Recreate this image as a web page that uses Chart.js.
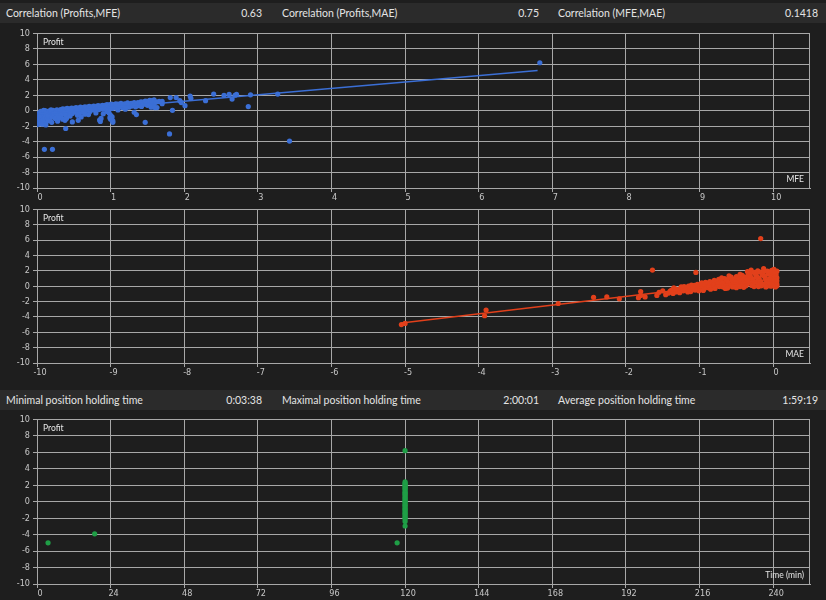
<!DOCTYPE html>
<html><head><meta charset="utf-8">
<script src="https://cdn.jsdelivr.net/npm/chart.js@4"></script>
<style>
html,body{margin:0;padding:0;background:#1e1e1e;width:826px;height:600px;overflow:hidden;}
.row{position:absolute;left:0;width:826px;height:20px;background:#2b2b2b;font:10.5px Lato,'Open Sans',sans-serif;color:#e4e4e4;}
.row span{position:absolute;top:0;line-height:20px;white-space:nowrap;}
.row .v{text-align:right;}
canvas{position:absolute;left:0;}
</style></head>
<body>
<div class="row" style="top:3px">
  <span style="left:6px">Correlation (Profits,MFE)</span><span class="v" style="right:564px">0.63</span>
  <span style="left:282px">Correlation (Profits,MAE)</span><span class="v" style="right:287px">0.75</span>
  <span style="left:558px">Correlation (MFE,MAE)</span><span class="v" style="right:8px">0.1418</span>
</div>
<div class="row" style="top:390px">
  <span style="left:6px">Minimal position holding time</span><span class="v" style="right:564px">0:03:38</span>
  <span style="left:282px">Maximal position holding time</span><span class="v" style="right:287px">2:00:01</span>
  <span style="left:558px">Average position holding time</span><span class="v" style="right:8px">1:59:19</span>
</div>
<canvas id="c1" width="826" height="178" style="top:25px"></canvas>
<canvas id="c2" width="826" height="177" style="top:201px"></canvas>
<canvas id="c3" width="826" height="188" style="top:411px"></canvas>
<script>
// ---- data ----
const mfeProfit = [
[0.01,-1.8],[0.02,-1.5],[0.03,-1.2],[0.02,-0.9],[0.04,-0.6],[0.03,-0.3],[0.05,-0.1],[0.06,-1.4],[0.07,-1.0],[0.08,-0.7],
[0.09,-0.4],[0.1,-0.15],[0.11,0.0],[0.12,-1.6],[0.13,-0.5],[0.14,-0.25],[0.16,-0.05],[0.17,-0.8],[0.18,-1.2],[0.2,-0.35],
[0.22,0.05],[0.24,-0.2],[0.25,-0.6],[0.27,0.1],[0.29,-0.1],[0.3,-0.45],[0.32,0.15],[0.34,-0.05],[0.36,-0.3],[0.38,0.2],
[0.4,0.0],[0.42,-0.2],[0.44,0.25],[0.46,0.05],[0.48,-0.35],[0.5,0.3],[0.52,0.1],[0.54,-0.1],[0.56,0.35],[0.58,0.15],
[0.6,-0.2],[0.62,0.4],[0.64,0.2],[0.66,0.0],[0.68,0.45],[0.7,0.25],[0.72,-0.1],[0.74,0.5],[0.76,0.3],[0.78,0.1],
[0.8,0.55],[0.82,0.35],[0.84,0.15],[0.86,0.6],[0.88,0.4],[0.9,0.2],[0.92,0.7],[0.94,0.45],[0.96,0.25],[0.98,0.75],
[1.0,0.5],[1.02,0.3],[1.04,0.8],[1.06,0.55],[1.08,0.35],[1.1,0.85],[1.13,0.6],[1.16,0.4],[1.19,0.9],[1.22,0.65],
[1.25,0.45],[1.28,0.95],[1.31,0.7],[1.34,0.5],[1.37,1.05],[1.4,0.8],[1.43,1.1],[1.46,0.85],[1.49,1.2],[1.52,0.95],
[1.55,1.3],[1.58,0.6],[1.6,1.05],[1.63,0.4],[1.66,1.2],[1.7,0.9],[1.55,0.45],[1.6,0.4],[1.7,1.2],
[0.03,-0.75],[0.05,-1.65],[0.06,-0.2],[0.08,-1.25],[0.09,0.05],[0.11,-0.9],[0.12,-0.35],[0.14,-1.05],[0.15,-0.6],[0.17,-0.15],
[0.19,0.1],[0.21,-0.75],[0.23,-0.45],[0.26,-0.25],[0.28,-0.7],[0.31,0.0],[0.33,-0.55],[0.35,0.25],[0.37,-0.15],[0.39,-0.6],
[0.41,0.3],[0.43,0.1],[0.45,-0.4],[0.47,0.35],[0.49,0.15],[0.51,-0.15],[0.53,0.4],[0.55,0.2],[0.57,-0.3],[0.59,0.45],
[0.61,0.25],[0.63,0.05],[0.65,0.5],[0.67,0.3],[0.69,0.1],[0.71,0.55],[0.73,0.35],[0.75,0.15],[0.77,0.6],[0.79,0.4],
[0.81,0.2],[0.83,0.65],[0.85,0.45],[0.87,0.25],[0.89,0.7],[0.91,0.5],[0.93,0.3],[0.95,0.8],[0.97,0.55],[0.99,0.35],
[1.01,0.85],[1.03,0.65],[1.05,0.4],[1.07,0.9],[1.09,0.7],[1.11,0.5],[1.14,0.95],[1.17,0.75],[1.2,0.55],[1.23,1.0],
[1.26,0.8],[1.29,0.6],[1.32,1.05],[1.35,0.85],[1.38,0.65],[1.41,1.15],[1.44,0.9],[1.47,1.25],[1.5,1.0],[1.53,1.35],
[1.56,1.1],[1.59,1.4],[1.62,1.15],[1.5,0.7],[1.42,0.55],[1.2,0.2],[1.1,0.1],[0.95,-0.1],[0.9,-0.4],[0.8,-0.3],
[0.65,-0.45],[0.55,-0.6],[0.4,-1.0],[0.35,-1.1],[0.28,-1.35],[0.12,-1.85],[0.07,-1.75],[1.0,-1.1],[1.02,-0.8],[0.87,-1.0],
[0.1,-5.0],[0.21,-5.0],[0.39,-2.3],[0.38,-1.25],[0.48,-1.45],[0.56,-1.25],[0.86,-1.4],[0.85,-1.2],[1.03,-1.3],[1.03,-1.5],
[0.99,-0.9],[1.0,-0.6],[0.98,-0.3],[1.32,-0.2],[1.35,-0.5],[1.47,-1.5],[1.8,-3.0],[1.84,0.05],[0.15,-1.3],[0.25,-1.0],
[0.3,-0.9],[0.6,-0.8],[0.7,-0.5],[0.45,-0.7],[0.2,-1.5],
[1.81,1.7],[1.89,1.7],[2.01,0.65],[2.08,1.9],[2.09,1.6],[1.94,1.3],[1.96,1.05],[2.29,1.3],[2.4,2.15],[2.54,2.0],
[2.61,2.1],[2.65,1.5],[2.69,2.0],[2.71,2.1],[2.87,0.53],[2.9,2.05],[3.27,2.15],[3.43,-3.93],[6.83,6.2]
];
const mfeTrend = [[0.0,-0.42],[6.8,5.2]];

const maeProfit = [
[-5.05,-5.0],[-5.0,-4.85],[-3.9,-3.1],[-3.92,-3.85],[-2.92,-2.25],[-2.44,-1.45],[-2.26,-1.4],[-2.09,-1.65],[-1.8,-0.7],[-1.83,-1.5],
[-1.74,-1.4],[-1.8,-1.2],[-1.58,-1.2],[-1.46,-1.1],[-1.64,2.1],[-1.05,1.8],[-0.17,6.2],[-0.3,2.1],[-0.13,2.3],[0.01,2.2],
[-1.42,-0.9],[-1.38,-0.5],[-1.35,-0.2],[-1.32,-0.75],[-1.28,-0.4],[-1.25,-0.1],[-1.22,-0.6],[-1.18,-0.3],[-1.15,0.0],[-1.12,-0.7],
[-1.1,-0.45],[-1.07,0.1],[-1.04,-0.2],[-1.01,-0.6],[-0.98,0.3],[-0.96,0.0],[-0.94,-0.35],[-0.92,0.5],[-0.9,0.2],[-0.88,-0.2],
[-0.86,0.6],[-0.84,0.3],[-0.82,-0.1],[-0.8,0.75],[-0.78,0.4],[-0.76,0.05],[-0.74,0.9],[-0.72,0.55],[-0.7,0.2],[-0.68,-0.1],
[-0.66,1.0],[-0.64,0.65],[-0.62,0.3],[-0.6,0.0],[-0.58,1.1],[-0.56,0.75],[-0.54,0.4],[-0.52,0.1],[-0.5,1.25],[-0.48,0.85],
[-0.46,0.5],[-0.44,0.15],[-0.42,1.4],[-0.4,1.0],[-0.38,0.6],[-0.36,0.25],[-0.34,1.5],[-0.32,1.1],[-0.3,0.7],[-0.28,0.3],
[-0.26,-0.05],[-0.24,1.6],[-0.22,1.2],[-0.2,0.8],[-0.18,0.4],[-0.16,0.05],[-0.14,1.75],[-0.12,1.3],[-0.1,0.9],[-0.08,0.5],
[-0.06,0.15],[-0.04,1.85],[-0.02,1.4],[0.0,1.0],[0.02,0.6],[0.03,0.2],[0.04,1.9],[0.04,1.5],[0.05,1.1],[0.05,0.7],
[0.05,0.3],[0.03,-0.1],[-0.03,0.0],[-0.09,-0.05],[-0.21,2.0],[-0.5,-0.2],[-0.35,1.9],[-1.55,-0.8],[-1.5,-0.6],
[-1.4,-0.65],[-1.36,-0.95],[-1.33,-0.35],[-1.3,-0.55],[-1.27,-0.85],[-1.24,-0.3],[-1.21,-0.05],[-1.19,-0.5],[-1.16,-0.75],[-1.13,-0.25],
[-1.11,0.15],[-1.09,-0.1],[-1.06,-0.5],[-1.03,0.25],[-1.0,-0.3],[-0.99,0.05],[-0.97,0.45],[-0.95,-0.55],[-0.93,0.15],[-0.91,-0.15],
[-0.89,0.4],[-0.87,0.0],[-0.85,-0.4],[-0.83,0.5],[-0.81,0.15],[-0.79,-0.3],[-0.77,0.6],[-0.75,0.3],[-0.73,-0.05],[-0.71,0.8],
[-0.69,0.4],[-0.67,0.1],[-0.65,-0.3],[-0.63,0.85],[-0.61,0.5],[-0.59,0.15],[-0.57,1.2],[-0.55,-0.1],[-0.53,0.9],[-0.51,0.55],
[-0.49,0.25],[-0.47,1.05],[-0.45,-0.05],[-0.43,0.75],[-0.41,0.4],[-0.39,1.2],[-0.37,0.05],[-0.35,0.85],[-0.33,0.45],[-0.31,1.3],
[-0.29,0.1],[-0.27,0.95],[-0.25,0.55],[-0.23,1.4],[-0.21,0.2],[-0.19,1.05],[-0.17,0.6],[-0.15,1.5],[-0.13,0.25],[-0.11,1.15],
[-0.09,0.7],[-0.07,1.6],[-0.05,0.35],[-0.03,1.2],[-0.01,0.75],[0.01,1.7],[0.02,0.4],[0.03,1.25],[0.04,0.85],[0.05,1.95],
[0.05,0.05],[-0.02,2.05],[-0.08,1.95],[-0.12,2.0],[-0.18,1.85],[-0.26,1.8],[-0.32,1.65],[-0.45,1.55],[-0.6,1.35],[-0.7,1.1],
[-0.1,-0.1],[-0.2,-0.05],[-0.4,-0.15],[-0.62,-0.25],[0.0,0.1],[0.02,1.85],[-0.05,0.95],[-0.15,0.3]
];
const maeTrend = [[-5.05,-4.8],[0.05,1.0]];

const timeProfit = [
[3.6,-5.0],[18.8,-3.9],[117.4,-5.0],[120,6.2],[120,-2.95],[120,-2.4],
[120,-2.1],[120,-1.95],[120,-1.8],[120,-1.6],[120,-1.45],[120,-1.3],[120,-1.1],[120,-0.95],[120,-0.8],[120,-0.6],
[120,-0.45],[120,-0.3],[120,-0.1],[120,0.05],[120,0.2],[120,0.35],[120,0.5],[120,0.7],[120,0.85],[120,1.0],
[120,1.15],[120,1.3],[120,1.5],[120,1.65],[120,1.8],[120,1.95],[120,2.1],[120,2.25],[120,2.4]
];

const yTicks = [-10,-8,-6,-4,-2,0,2,4,6,8,10];

// ---- styling / helpers ----
const GRID = '#a8a8a8';
const TICKFONT = {family:"'Liberation Sans Narrow','DejaVu Sans Condensed',sans-serif", size:9};
const pts = a => a.map(p => ({x:p[0], y:p[1]}));

const frame = {
  id:'frame',
  afterDraw(chart, args, o){
    const {ctx, chartArea:a} = chart;
    ctx.save();
    ctx.strokeStyle = GRID; ctx.lineWidth = 1;
    ctx.beginPath();
    ctx.moveTo(Math.round(a.right)-0.5, a.top); ctx.lineTo(Math.round(a.right)-0.5, a.bottom);
    ctx.stroke();
    ctx.fillStyle = '#e6e6e6';
    ctx.font = "8.5px Lato, 'Open Sans', sans-serif";
    ctx.textBaseline = 'middle';
    ctx.textAlign = 'left';
    ctx.fillText(o.yTitle, a.left + 6, a.top + 9);
    ctx.textAlign = 'right';
    ctx.fillText(o.xTitle, a.right - 6, a.bottom - 9);
    ctx.restore();
  }
};

function makeChart(id, data, trend, color, xmin, xmax, step, yTitle, xTitle){
  const datasets = [{type:'scatter', data:pts(data), backgroundColor:color, borderColor:color, pointRadius:2.6, pointBorderWidth:0, order:2}];
  if (trend) datasets.push({type:'line', data:pts(trend), borderColor:color, borderWidth:1.6, pointRadius:0, fill:false, order:1});
  return new Chart(document.getElementById(id), {
    type:'scatter',
    data:{datasets},
    options:{
      responsive:false, animation:false, events:[],
      layout:{padding:{top:6, right:16, left:0, bottom:0}},
      plugins:{legend:{display:false}, tooltip:{enabled:false}, frame:{yTitle, xTitle}},
      scales:{
        x:{type:'linear', min:xmin, max:xmax,
           afterFit:s=>{s.height=15;},
           ticks:{stepSize:step, includeBounds:false, color:'#c8c8c8', font:TICKFONT, padding:0, labelOffset:3, maxRotation:0, autoSkip:false},
           grid:{color:GRID, lineWidth:1, tickLength:4, drawTicks:true},
           border:{color:GRID}},
        y:{type:'linear', min:-10, max:10,
           afterFit:s=>{s.width=37;},
           afterBuildTicks:s=>{s.ticks = yTicks.map(v=>({value:v}));},
           ticks:{color:'#c8c8c8', font:TICKFONT, padding:3},
           grid:{color:GRID, lineWidth:1, tickLength:4, drawTicks:true},
           border:{color:GRID}}
      }
    },
    plugins:[frame]
  });
}

makeChart('c1', mfeProfit, mfeTrend, '#3b6fd6', 0, 10.5, 1, 'Profit', 'MFE');
makeChart('c2', maeProfit, maeTrend, '#e2401b', -10, 0.5, 1, 'Profit', 'MAE');
makeChart('c3', timeProfit, null, '#1f9e46', 0, 252, 24, 'Profit', 'Time (min)');
</script>
</body></html>
